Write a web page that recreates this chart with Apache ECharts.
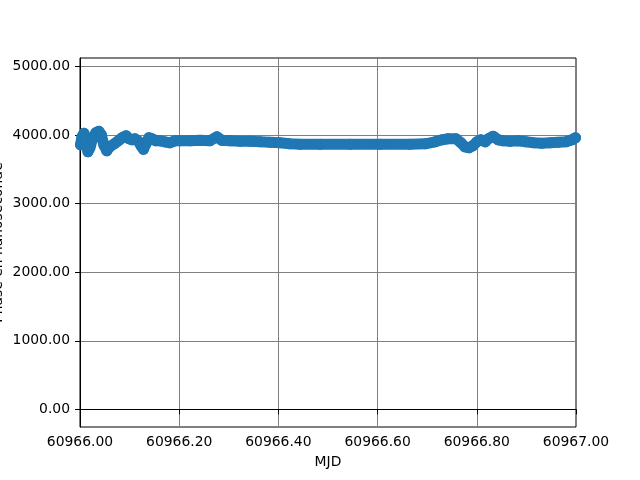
<!DOCTYPE html>
<html>
<head>
<meta charset="utf-8">
<script src="https://cdn.jsdelivr.net/npm/echarts@6/dist/echarts.min.js"></script>
<style>html,body{margin:0;padding:0;background:#fff}#c{width:640px;height:480px}</style>
</head>
<body>
<div id="c"></div>
<script>
const mjd = [60966.001,60966.004,60966.008,60966.012,60966.016,60966.020,60966.026,60966.032,60966.038,60966.043,
  60966.048,60966.054,60966.060,60966.069,60966.077,60966.085,60966.093,60966.099,60966.105,60966.111,
  60966.117,60966.123,60966.128,60966.133,60966.139,60966.145,60966.153,60966.161,60966.171,60966.181,
  60966.192,60966.202,60966.222,60966.242,60966.262,60966.276,60966.286,60966.302,60966.323,60966.343,
  60966.363,60966.383,60966.403,60966.423,60966.444,60966.484,60966.544,60966.605,60966.665,60966.696,
  60966.716,60966.730,60966.742,60966.758,60966.768,60966.776,60966.784,60966.792,60966.800,60966.808,
  60966.817,60966.823,60966.833,60966.843,60966.853,60966.867,60966.883,60966.899,60966.915,60966.931,
  60966.948,60966.964,60966.980,60966.992,60966.999];
const phase = [3859,3975,4026,3931,3757,3815,3961,4034,4055,4004,
  3859,3771,3829,3873,3917,3961,3990,3946,3931,3946,
  3917,3844,3793,3873,3961,3946,3917,3917,3902,3888,
  3917,3917,3917,3924,3917,3975,3924,3917,3910,3910,
  3902,3895,3888,3873,3866,3866,3866,3866,3866,3873,
  3902,3931,3946,3946,3888,3829,3815,3844,3902,3931,
  3902,3946,3983,3931,3917,3910,3917,3902,3888,3880,
  3888,3895,3902,3931,3961];
const yTicks = [0,1000,2000,3000,4000,5000];
const xName = 'MJD';
const yName = 'Phase en nanoseconde';

const chart = echarts.init(document.getElementById('c'), null, {renderer:'canvas'});
const font = 'DejaVu Sans';
chart.setOption({
  animation:false,
  backgroundColor:'#fff',
  textStyle:{fontFamily:font},
  grid:{left:80,right:64,top:58,bottom:53,containLabel:false,outerBoundsMode:'none',
    show:true,borderColor:'#000',borderWidth:1,backgroundColor:'transparent'},
  xAxis:{type:'value',min:60966,max:60967,interval:0.2,
    name:xName,nameLocation:'middle',nameGap:28,nameMoveOverlap:false,nameTextStyle:{fontSize:13.9,color:'#000',fontFamily:font},
    axisLine:{lineStyle:{color:'#000',width:1}},
    axisTick:{show:true,length:5,lineStyle:{color:'#000'}},
    axisLabel:{margin:8,fontSize:13.9,color:'#000',fontFamily:font,formatter:v=>v.toFixed(2),showMinLabel:true,showMaxLabel:true,hideOverlap:false},
    splitLine:{show:true,lineStyle:{color:'#808080',width:1}}},
  yAxis:{type:'value',min:-257,max:5124,
    name:yName,nameLocation:'middle',nameGap:75,nameRotate:90,nameMoveOverlap:false,nameTextStyle:{fontSize:13.9,color:'#000',fontFamily:font},
    axisLine:{show:true,lineStyle:{color:'#000',width:1}},
    axisTick:{show:true,length:5,lineStyle:{color:'#000'},customValues:yTicks},
    axisLabel:{margin:10,fontSize:13.9,color:'#000',fontFamily:font,formatter:v=>v.toFixed(2),customValues:yTicks},
    splitLine:{show:true,lineStyle:{color:'#808080',width:1}}},
  series:[{type:'line',data:mjd.map((x,i)=>[x,phase[i]]),
    symbol:'circle',symbolSize:11,showSymbol:true,
    itemStyle:{color:'#1f77b4'},
    lineStyle:{color:'#1f77b4',width:11,cap:'round',join:'round'}}]
});
</script>
</body>
</html>
